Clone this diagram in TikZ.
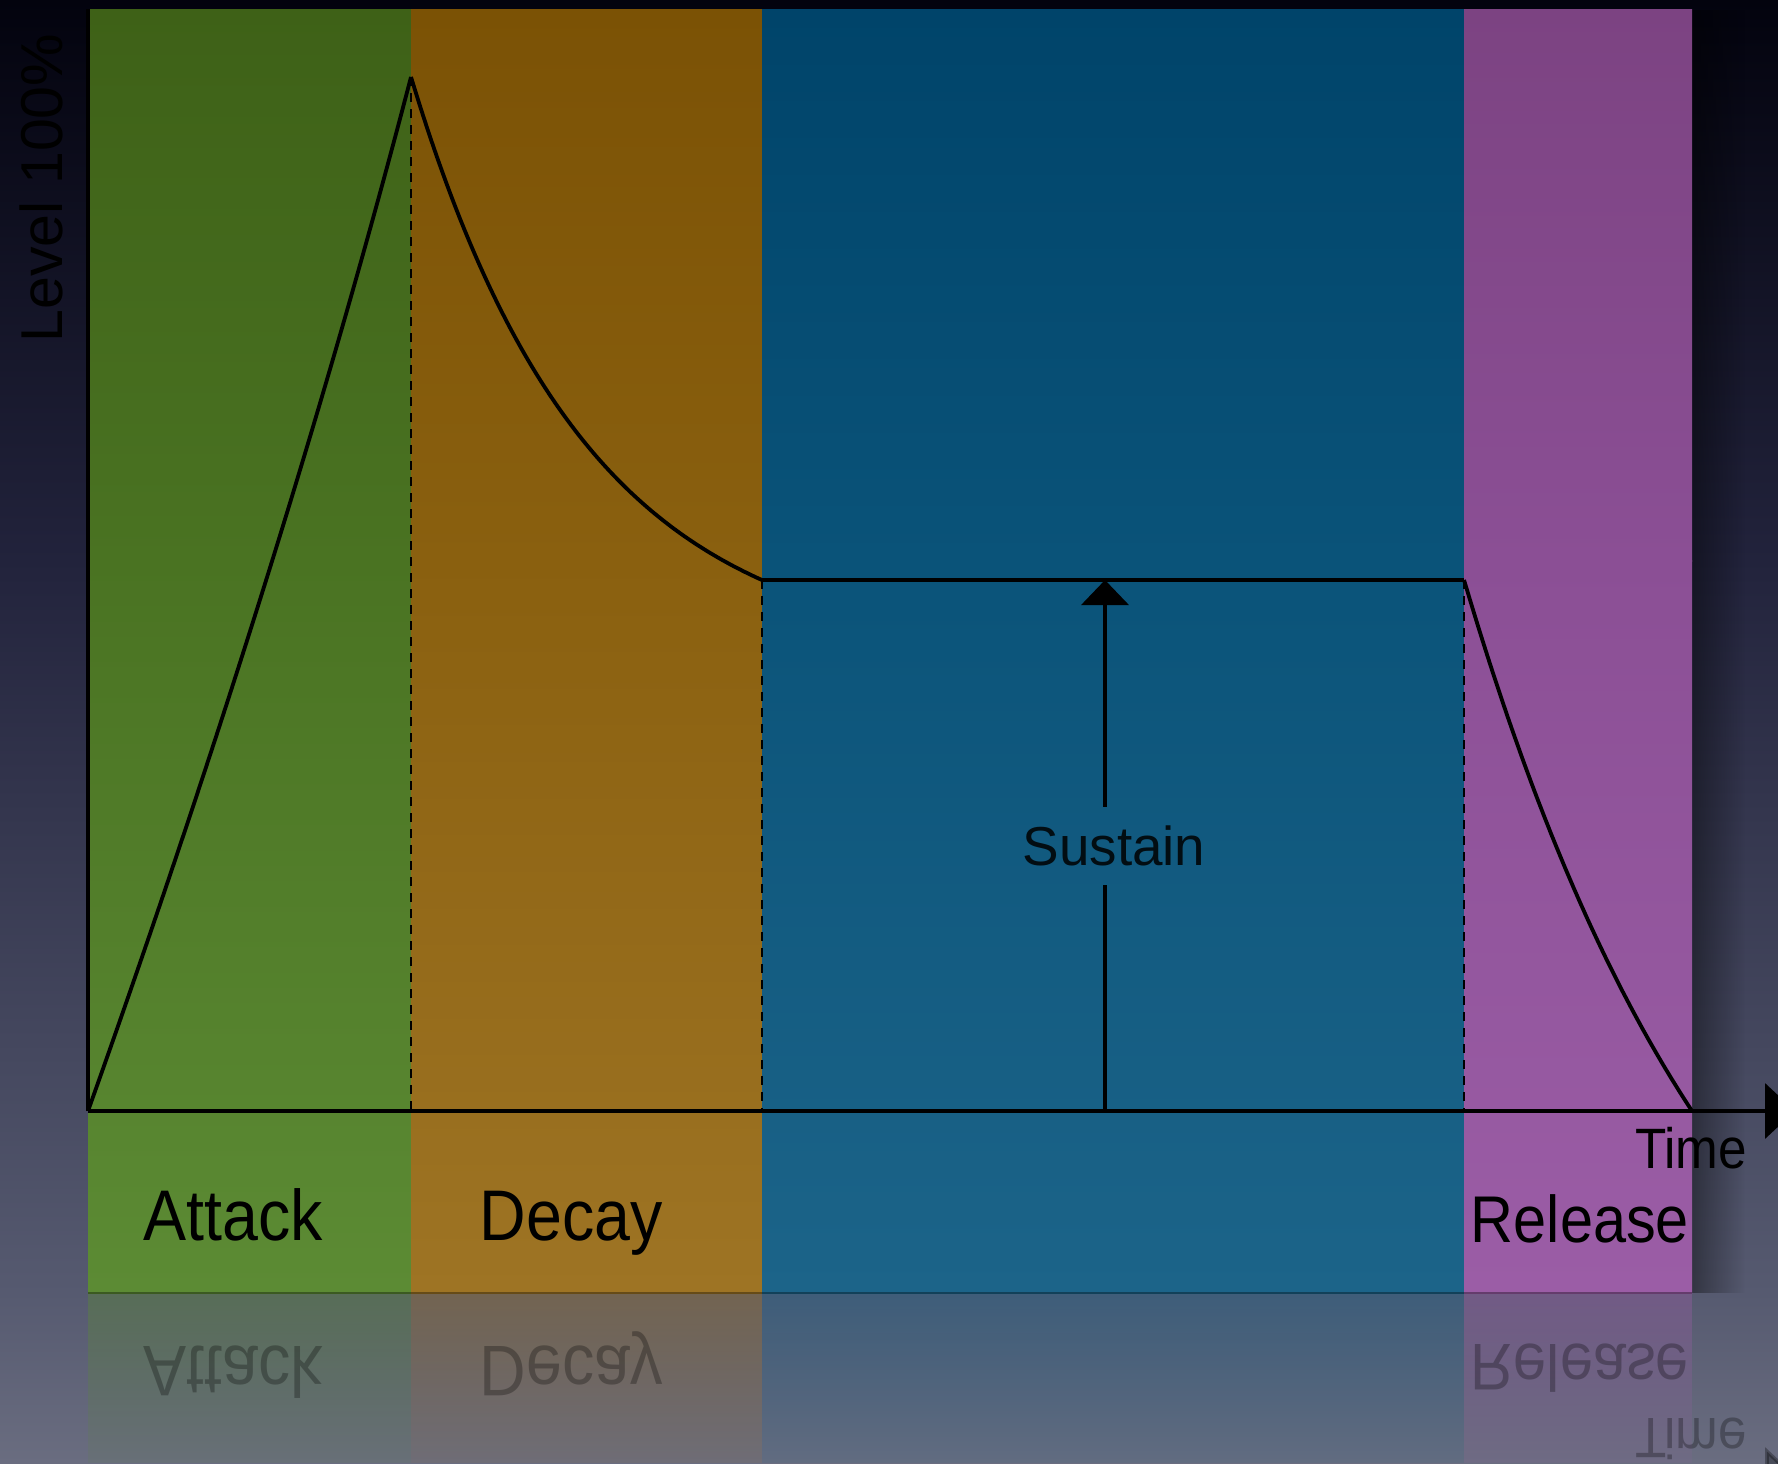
\documentclass[tikz,border=0pt]{standalone}
\usepackage{fontspec}
\setmainfont{Liberation Sans}
\newfontfamily\lblc[FakeStretch=0.9]{Liberation Sans}
\newfontfamily\lbln{Liberation Sans}
\usetikzlibrary{arrows.meta,fadings}
\definecolor{bgA}{HTML}{03030E}
\definecolor{bgB}{HTML}{22233C}
\definecolor{bgC}{HTML}{565A70}
\definecolor{bgD}{HTML}{6A6D80}
\definecolor{grA}{HTML}{3E6117}\definecolor{grB}{HTML}{4A7322}\definecolor{grC}{HTML}{5C8B34}
\definecolor{orA}{HTML}{7B5205}\definecolor{orB}{HTML}{8A600F}\definecolor{orC}{HTML}{9E7424}
\definecolor{blA}{HTML}{00446A}\definecolor{blB}{HTML}{0A5379}\definecolor{blC}{HTML}{1C6489}
\definecolor{puA}{HTML}{7C4382}\definecolor{puB}{HTML}{8B4F95}\definecolor{puC}{HTML}{9B5DA6}
\tikzfading[name=reflfade, top color=transparent!60, bottom color=transparent!90]
\tikzfading[name=shadowfade, left color=transparent!60, right color=transparent!100]
\begin{document}
\begin{tikzpicture}[x=0.25mm,y=-0.25mm,
  curve/.style={line width=0.95mm, black, line join=round},
  guide/.style={line width=0.65mm, black, dash pattern=on 2.25mm off 1.75mm},
  bigl/.style={font=\lblc\fontsize{51}{60}\selectfont, text=black, inner sep=0pt, anchor=base},
  midl/.style={font=\lblc\fontsize{47}{56}\selectfont, text=black, inner sep=0pt, anchor=base},
  timel/.style={font=\lblc\fontsize{40.5}{48}\selectfont, text=black, inner sep=0pt, anchor=base},
  refl/.style={yscale=-1, text opacity=0.28}]
\useasboundingbox (0,0) rectangle (1778,1463);
\begin{scope}
\clip (0,0) rectangle (1778,1463);
% background
\shade[top color=bgA,bottom color=bgB] (0,0) rectangle (1778,561);
\shade[top color=bgB,bottom color=bgC] (0,560) rectangle (1778,1294);
\shade[top color=bgC,bottom color=bgD] (0,1293) rectangle (1778,1463);
% panel shadow
\fill[black, path fading=shadowfade] (1692,9) rectangle (1745,1293);
% panels
\shade[top color=grA,bottom color=grB] (88,9) rectangle (411,561);
\shade[top color=grB,bottom color=grC] (88,560) rectangle (411,1293);
\shade[top color=orA,bottom color=orB] (411,9) rectangle (762,561);
\shade[top color=orB,bottom color=orC] (411,560) rectangle (762,1293);
\shade[top color=blA,bottom color=blB] (762,9) rectangle (1464,561);
\shade[top color=blB,bottom color=blC] (762,560) rectangle (1464,1293);
\shade[top color=puA,bottom color=puB] (1464,9) rectangle (1692,561);
\shade[top color=puB,bottom color=puC] (1464,560) rectangle (1692,1293);
% reflections of panels
\fill[grC, path fading=reflfade] (88,1294) rectangle (411,1463);
\fill[orC, path fading=reflfade] (411,1294) rectangle (762,1463);
\fill[blC, path fading=reflfade] (762,1294) rectangle (1464,1463);
\fill[puC, path fading=reflfade] (1464,1294) rectangle (1692,1463);
\draw[line width=0.5mm, black, opacity=0.35] (88,1293) -- (1692,1293);
% key points
\coordinate (O) at (88,1111);
\coordinate (Ytop) at (88,9);
\coordinate (P) at (411,77);
\coordinate (Pb) at (411,1111);
\coordinate (D) at (762,580);
\coordinate (Db) at (762,1111);
\coordinate (R) at (1464,580);
\coordinate (Rb) at (1464,1111);
\coordinate (E) at (1692,1111);
\coordinate (T) at (1795,1111);
\coordinate (sb) at (1105,1111);
\coordinate (st) at (1105,580);
% guides
\draw[guide] (P) -- (Pb);
\draw[guide] (D) -- (Db);
\draw[guide] (R) -- (Rb);
% axes
\draw[curve] (O) -- (Ytop);
\draw[curve, -{Triangle[width=13.75mm,length=7.5mm]}] (O) -- (T);
% envelope
\draw[curve] (O) .. controls (195,811) and (314,449) .. (P);
\draw[curve] plot[domain=0:1, samples=80, smooth] ({411+351*\x},{77+503*(1-exp(-2*\x))/0.864665});
\draw[curve] (D) -- (R);
\draw[curve] plot[domain=0:1, samples=80, smooth] ({1464+228*\x},{580+531*(1-exp(-0.8*\x))/0.550671});
% sustain arrow
\node[font=\lbln\fontsize{39}{46}\selectfont, text=black, text opacity=0.85, inner sep=0pt, minimum height=19.5mm] (sus) at (1114,846) {Sustain};
\draw[curve] (sb) -- (sb |- sus.south);
\draw[curve, -{Triangle[width=11.75mm,length=6.25mm]}] (sb |- sus.north) -- (st);
% labels
\node[font=\lbln\fontsize{42}{50}\selectfont, text=black, rotate=90, anchor=base, inner sep=0pt] (lvl) at (62,188) {Level 100\%};
\node[bigl] (atk) at (233,1240) {Attack};
\node[bigl] (dec) at (571,1240) {Decay};
\node[midl] (rel) at (1580,1242) {Release};
\node[timel] (tim) at (1691,1168) {Time};
% reflected labels
\node[bigl, refl] (atkr) at (233,1346) {Attack};
\node[bigl, refl] (decr) at (571,1346) {Decay};
\node[midl, refl] (relr) at (1580,1344) {Release};
\node[timel, refl] (timr) at (1691,1418) {Time};
\coordinate (Er) at (1692,1475);
\coordinate (Tr) at (1795,1475);
\draw[curve, opacity=0.3, -{Triangle[width=13.75mm,length=7.5mm]}] (Er) -- (Tr);
\end{scope}
\end{tikzpicture}
\end{document}
